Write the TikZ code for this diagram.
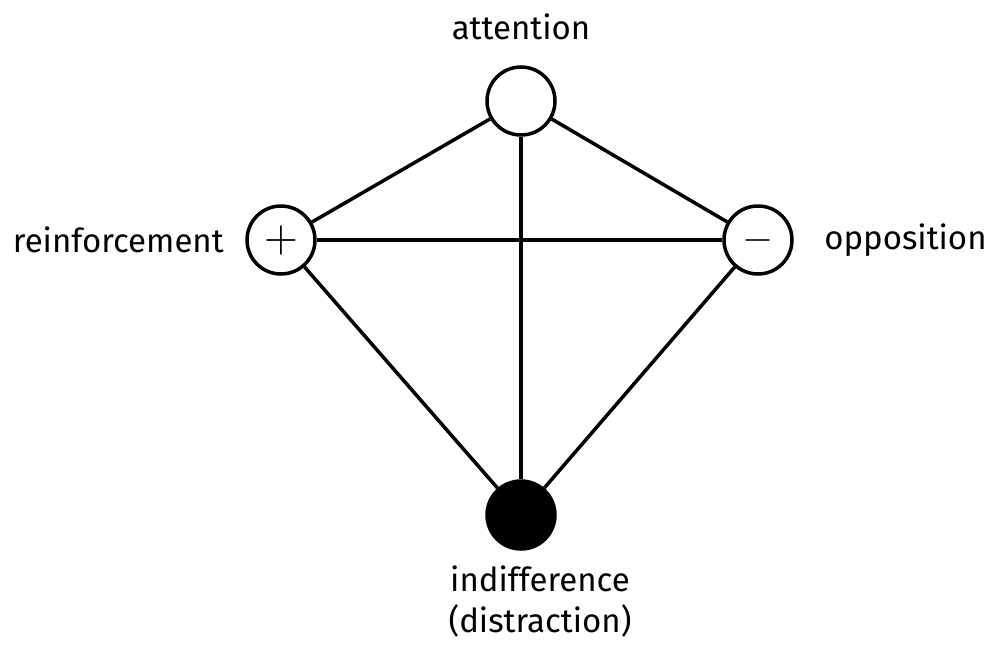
\documentclass[tikz,border=0pt]{standalone}
\usepackage{fontspec}
\setmainfont{Fira Sans}
\usepackage{graphicx}
\usepackage{tikz}
\usetikzlibrary{positioning}

\begin{document}
\begin{tikzpicture}[x=1pt,y=-1pt]
			\useasboundingbox (0,0) rectangle (990,653);
			\begin{scope}[every node/.style={circle,line width=3.5pt,draw,minimum size=68pt,inner sep=0pt}]
				\node (att) at (521,101) {};
				\node (reinf) at (281,240) {\scalebox{4.4}{$+$}};
				\node (opp) at (758,240) {\scalebox{4}{$-$}};
				\node[fill=black] (indiff) at (521,515) {};
			\end{scope}

			\begin{scope}[every node/.style={font=\fontsize{33}{41}\selectfont,align=center},
				every edge/.style={draw,line width=3.5pt}]
				\node[above=22pt of att] (attlbl) {attention};
				\node[left=18pt of reinf] (reinflbl) {reinforcement};
				\node[right=27pt of opp] (opplbl) {opposition};
				\node[anchor=north] (indifflbl) at (540,562) {indifference\\(distraction)};
				\path (att) edge (reinf);
				\path (att) edge (opp);
				\path (att) edge (indiff);
				\path (reinf) edge (opp);
				\path (reinf) edge (indiff);
				\path (opp) edge (indiff);
			\end{scope}
		\end{tikzpicture}
\end{document}
